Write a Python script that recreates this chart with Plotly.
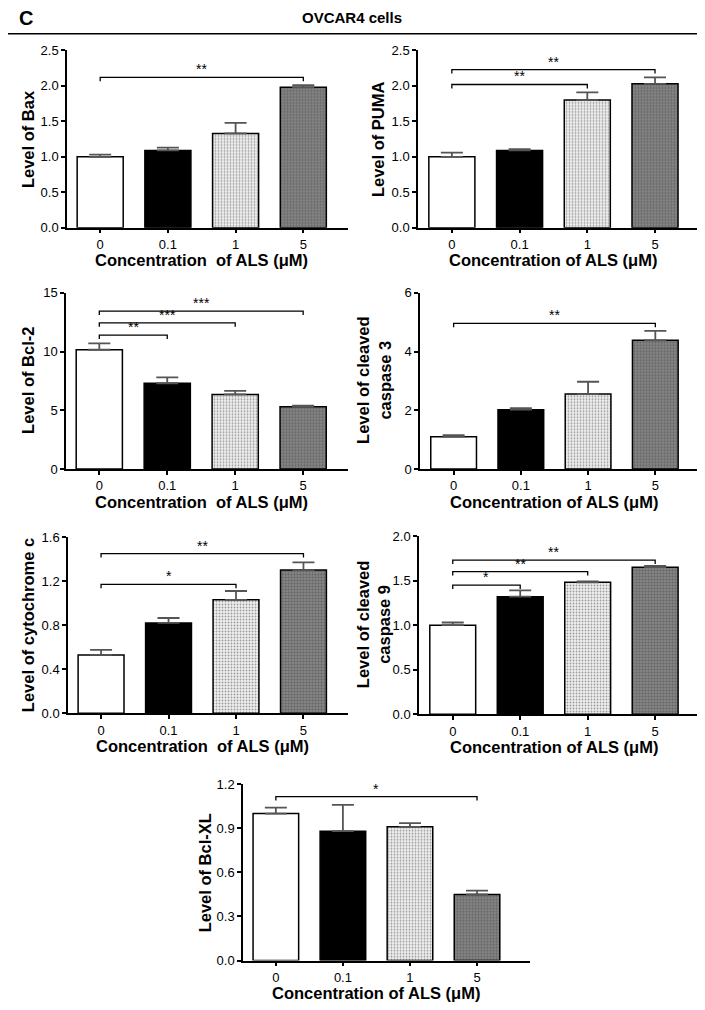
import plotly.graph_objects as go

# page body has an 8px default margin; size the figure so the page is 705x1010
OFF = 8
W, H = 705 - 2 * OFF, 1010 - 2 * OFF

categories = ["0", "0.1", "1", "5"]

bax_mean = [1.00, 1.09, 1.33, 1.98]
bax_err = [0.03, 0.04, 0.15, 0.03]
puma_mean = [1.00, 1.09, 1.80, 2.03]
puma_err = [0.06, 0.02, 0.11, 0.09]
bcl2_mean = [10.15, 7.30, 6.35, 5.30]
bcl2_err = [0.55, 0.50, 0.30, 0.10]
casp3_mean = [1.10, 2.02, 2.55, 4.38]
casp3_err = [0.05, 0.05, 0.42, 0.32]
cytc_mean = [0.53, 0.82, 1.03, 1.30]
cytc_err = [0.045, 0.045, 0.08, 0.07]
casp9_mean = [1.00, 1.32, 1.48, 1.65]
casp9_err = [0.03, 0.07, 0.01, 0.015]
bclxl_mean = [1.00, 0.88, 0.91, 0.45]
bclxl_err = [0.04, 0.18, 0.025, 0.025]

# significance brackets: (end category index, height, label)
bax_sig = [(3, 2.12, "**")]
puma_sig = [(2, 2.02, "**"), (3, 2.23, "**")]
bcl2_sig = [(1, 11.4, "**"), (2, 12.43, "***"), (3, 13.43, "***")]
casp3_sig = [(3, 4.96, "**")]
cytc_sig = [(2, 1.17, "*"), (3, 1.45, "**")]
casp9_sig = [(1, 1.45, "*"), (2, 1.60, "**"), (3, 1.73, "**")]
bclxl_sig = [(3, 1.115, "*")]

FONT = "Liberation Sans, Arial, sans-serif"
XT_WIDE = "Concentration\u00a0 of ALS (\u03bcM)"
XT = "Concentration of ALS (\u03bcM)"

panels = [
    dict(m=bax_mean, e=bax_err, sig=bax_sig, ymax=2.5, dt=0.5, fmt=".1f",
         yt="Level of Bax", xt=XT_WIDE, box=(67, 348, 44, 224), xr=[-0.49, 3.66],
         ytx=28),
    dict(m=puma_mean, e=puma_err, sig=puma_sig, ymax=2.5, dt=0.5, fmt=".1f",
         yt="Level of PUMA", xt=XT, box=(418, 697, 44, 224), xr=[-0.5, 3.62],
         ytx=378),
    dict(m=bcl2_mean, e=bcl2_err, sig=bcl2_sig, ymax=15, dt=5, fmt="d",
         yt="Level of Bcl-2", xt=XT_WIDE, box=(66, 348, 290, 469), xr=[-0.49, 3.66],
         ytx=28),
    dict(m=casp3_mean, e=casp3_err, sig=casp3_sig, ymax=6, dt=2, fmt="d",
         yt="Level of cleaved<br>caspase 3", xt=XT, box=(420, 697, 290, 469), xr=[-0.5, 3.62],
         ytx=374),
    dict(m=cytc_mean, e=cytc_err, sig=cytc_sig, ymax=1.6, dt=0.4, fmt=".1f",
         yt="Level of cytochrome c", xt=XT_WIDE, box=(68, 348, 538, 717), xr=[-0.49, 3.66],
         ytx=28),
    dict(m=casp9_mean, e=casp9_err, sig=casp9_sig, ymax=2.0, dt=0.5, fmt=".1f",
         yt="Level of cleaved<br>caspase 9", xt=XT, box=(419, 697, 537, 718), xr=[-0.5, 3.62],
         ytx=373),
    dict(m=bclxl_mean, e=bclxl_err, sig=bclxl_sig, ymax=1.2, dt=0.3, fmt=".1f",
         yt="Level of Bcl-XL", xt=XT, box=(243, 530, 789, 968), xr=[-0.49, 3.79],
         ytx=205),
]

bar_colors = ["white", "black", "#f0f0f0", "#8c8c8c"]
pat_fg = ["white", "black", "#d6d6d6", "#5a5a5a"]
pat_shape = ["", "", ".", "."]
pat_size = [4, 4, 3, 3]
pat_sol = [0.3, 0.3, 0.3, 0.5]

fig = go.Figure()
annotations = []
layout = {}


def px(xp):
    return (xp - OFF) / W


def py(yp):
    return 1 - (yp - OFF) / H


def clamp(v):
    return max(0.0, min(1.0, v))


for i, p in enumerate(panels, start=1):
    xa = f"x{i}" if i > 1 else "x"
    ya = f"y{i}" if i > 1 else "y"
    fig.add_trace(go.Bar(
        x=categories, y=p["m"], xaxis=xa, yaxis=ya, width=0.68,
        marker=dict(color=bar_colors, line=dict(color="black", width=1.5),
                    pattern=dict(shape=pat_shape, fgcolor=pat_fg, size=pat_size,
                                 solidity=pat_sol, fillmode="overlay")),
        error_y=dict(type="data", array=p["e"], arrayminus=[0] * 4, symmetric=False,
                     color="#555555", thickness=1.8, width=11),
        showlegend=False, hoverinfo="skip",
    ))
    d = p["ymax"] * 0.022
    for (k, h, lab) in p["sig"]:
        fig.add_trace(go.Scatter(
            x=[categories[0], categories[0], categories[k], categories[k]],
            y=[h - d, h, h, h - d], mode="lines", xaxis=xa, yaxis=ya,
            line=dict(color="black", width=1.3), showlegend=False, hoverinfo="skip",
        ))
        annotations.append(dict(
            x=(0 + k) / 2, y=h, xref=xa, yref=ya, text=lab, showarrow=False,
            yanchor="bottom", yshift=-2, font=dict(size=14, color="black", family=FONT),
        ))
    x0, x1, y0, y1 = p["box"]
    axkey = "xaxis" if i == 1 else f"xaxis{i}"
    aykey = "yaxis" if i == 1 else f"yaxis{i}"
    layout[axkey] = dict(
        domain=[clamp(px(x0)), clamp(px(x1))], anchor=ya, type="category", range=p["xr"],
        showline=True, linecolor="black", linewidth=1.5, ticks="outside",
        ticklen=4, tickwidth=1.5, tickcolor="black", showgrid=False, zeroline=False,
        tickfont=dict(size=13, color="black", family=FONT), fixedrange=True,
    )
    layout[aykey] = dict(
        domain=[clamp(py(y1)), clamp(py(y0))], anchor=xa, range=[0, p["ymax"]], dtick=p["dt"],
        tick0=0, tickformat=p["fmt"], showline=True, linecolor="black", linewidth=1.5,
        ticks="outside", ticklen=4, tickwidth=1.5, tickcolor="black",
        showgrid=False, zeroline=False,
        tickfont=dict(size=13, color="black", family=FONT), fixedrange=True,
    )
    annotations.append(dict(
        x=px(p["ytx"]), y=py((y0 + y1) / 2), xref="paper", yref="paper",
        text=p["yt"], textangle=-90, showarrow=False, xanchor="center", yanchor="middle",
        font=dict(size=16.5, color="black", family=FONT), align="center",
    ))
    annotations.append(dict(
        x=1.5, y=py(y1 + 33), xref=xa, yref="paper", text=p["xt"], showarrow=False,
        xanchor="center", yanchor="middle",
        font=dict(size=16.5, color="black", family=FONT),
    ))

annotations.append(dict(x=px(17), y=py(11), xref="paper", yref="paper", text="<b>C</b>",
                        showarrow=False, xanchor="left", yanchor="middle",
                        font=dict(size=20, color="black", family=FONT)))
annotations.append(dict(x=px(352), y=py(11), xref="paper", yref="paper",
                        text="<b>OVCAR4 cells</b>", showarrow=False, xanchor="center",
                        yanchor="middle", font=dict(size=15, color="black", family=FONT)))

# bold the axis titles
for a in annotations:
    if a["text"].startswith("Level") or a["text"].startswith("Concentration"):
        a["text"] = "<b>" + a["text"].replace("<br>", "</b><br><b>") + "</b>"

fig.update_layout(
    width=W, height=H, margin=dict(l=0, r=0, t=0, b=0),
    paper_bgcolor="white", plot_bgcolor="white",
    annotations=annotations, bargap=0.3,
    shapes=[dict(type="line", xref="paper", yref="paper", x0=px(0), x1=px(705),
                 y0=py(27), y1=py(27), line=dict(color="black", width=1.5))],
    font=dict(family=FONT, color="black"),
    **layout,
)

fig.write_html("out.html")
